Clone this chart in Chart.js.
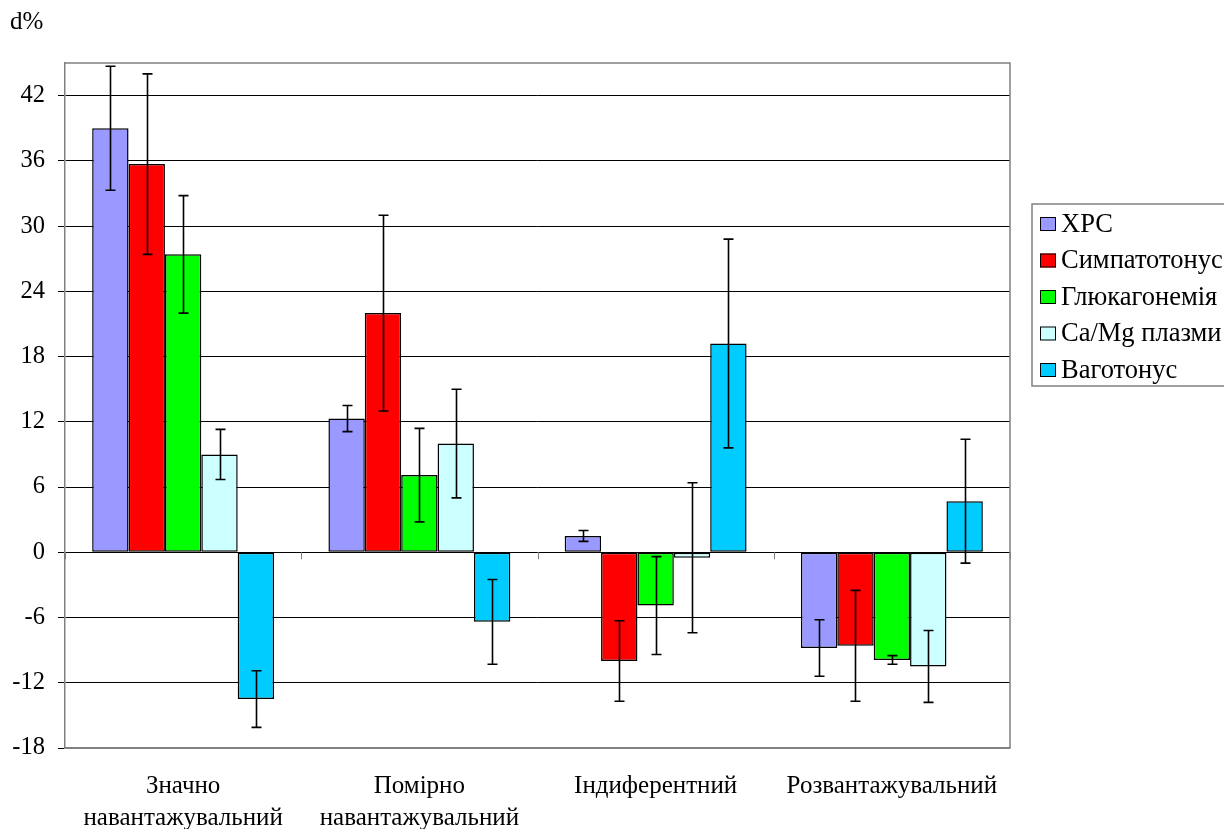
<!DOCTYPE html>
<html>
<head>
<meta charset="utf-8">
<script src="https://cdn.jsdelivr.net/npm/chart.js@4/dist/chart.umd.min.js"></script>
<style>
  html, body { margin: 0; padding: 0; background: #fff; }
  #wrap { width: 1224px; height: 829px; }
</style>
</head>
<body>
<div id="wrap"><canvas id="chart" width="1224" height="829"></canvas></div>
<script>
/* ---------- data ---------- */
const categories = [
  ['Значно', 'навантажувальний'],
  ['Помірно', 'навантажувальний'],
  'Індиферентний',
  'Розвантажувальний'
];
const seriesNames = ['ХРС', 'Симпатотонус', 'Глюкагонемія', 'Ca/Mg плазми', 'Ваготонус'];

const hrs      = [39.0, 12.3, 1.5, -8.8];
const hrsErr   = [5.7, 1.2, 0.5, 2.6];
const symp     = [35.7, 22.0, -10.0, -8.6];
const sympErr  = [8.3, 9.0, 3.7, 5.1];
const gluk     = [27.4, 7.1, -4.9, -9.9];
const glukErr  = [5.4, 4.3, 4.5, 0.4];
const camg     = [9.0, 10.0, -0.5, -10.5];
const camgErr  = [2.3, 5.0, 6.9, 3.3];
const vago     = [-13.5, -6.4, 19.2, 4.7];
const vagoErr  = [2.6, 3.9, 9.6, 5.7];

const yMin = -18, yMax = 45, yStep = 6;
const axisTitle = 'd%';

const values = [hrs, symp, gluk, camg, vago];
const errors = [hrsErr, sympErr, glukErr, camgErr, vagoErr];
const colors = ['#9999ff', '#ff0000', '#00ff00', '#ccffff', '#00ccff'];

const FONT = "'Liberation Serif', 'Times New Roman', serif";
const GRAY = '#808080';

/* ---------- plugins ---------- */
// gray frame round the plot + little ticks on the zero line
const framePlugin = {
  id: 'frame',
  beforeDatasetsDraw(chart) {
    const { ctx, chartArea: a, scales: { x, y } } = chart;
    ctx.save();
    ctx.strokeStyle = GRAY;
    ctx.lineWidth = 1.5;
    ctx.beginPath();
    ctx.moveTo(a.left, a.top);
    ctx.lineTo(a.right, a.top);
    ctx.lineTo(a.right, a.bottom);
    ctx.stroke();

    const y0 = y.getPixelForValue(0);
    ctx.lineWidth = 1;
    ctx.beginPath();
    for (let i = 0; i <= categories.length; i++) {
      const px = Math.round(x.getPixelForValue(i - 0.5)) + 0.5;
      ctx.moveTo(px, y0);
      ctx.lineTo(px, y0 + 7);
    }
    ctx.stroke();
    ctx.restore();
  }
};

// error bars drawn from the y scale
const errorBarPlugin = {
  id: 'errorBars',
  afterDatasetsDraw(chart) {
    const { ctx, scales: { y } } = chart;
    ctx.save();
    ctx.strokeStyle = '#000';
    ctx.lineWidth = 1.6;
    chart.data.datasets.forEach((ds, i) => {
      const meta = chart.getDatasetMeta(i);
      meta.data.forEach((bar, j) => {
        const v = ds.data[j], e = errors[i][j];
        const top = y.getPixelForValue(v + e);
        const bot = y.getPixelForValue(v - e);
        const cx = Math.round(bar.x) + 0.5;
        ctx.beginPath();
        ctx.moveTo(cx, top); ctx.lineTo(cx, bot);
        ctx.moveTo(cx - 5, top); ctx.lineTo(cx + 5, top);
        ctx.moveTo(cx - 5, bot); ctx.lineTo(cx + 5, bot);
        ctx.stroke();
      });
    });
    ctx.restore();
  }
};

// boxed legend at the right and the "d%" label
const legendPlugin = {
  id: 'boxLegend',
  afterDraw(chart) {
    const { ctx } = chart;
    const left = 1032, top = 204, rowH = 36.5;
    ctx.save();
    ctx.strokeStyle = GRAY;
    ctx.lineWidth = 1.5;
    ctx.strokeRect(left, top, 200, 182);

    ctx.font = '26.5px ' + FONT;
    ctx.textBaseline = 'middle';
    ctx.fillStyle = '#000';
    chart.data.datasets.forEach((ds, i) => {
      const cy = top + 20 + i * rowH;
      ctx.fillStyle = ds.backgroundColor;
      ctx.fillRect(1040, cy - 7, 16, 14);
      ctx.strokeStyle = '#000';
      ctx.lineWidth = 1;
      ctx.strokeRect(1040.5, cy - 6.5, 15, 13);
      ctx.fillStyle = '#000';
      ctx.fillText(ds.label, 1061, cy + 1);
    });

    ctx.font = '25px ' + FONT;
    ctx.textBaseline = 'alphabetic';
    ctx.fillText(axisTitle, 10, 29);
    ctx.restore();
  }
};

/* ---------- chart ---------- */
const ctx = document.getElementById('chart').getContext('2d');

const chart = new Chart(ctx, {
  type: 'bar',
  data: {
    labels: categories,
    datasets: seriesNames.map((name, i) => ({
      label: name,
      data: values[i],
      backgroundColor: colors[i],
      borderColor: '#000',
      borderWidth: 1.5,
      borderSkipped: false,
      categoryPercentage: 0.77,
      barPercentage: 1.0
    }))
  },
  options: {
    responsive: false,
    animation: false,
    layout: { padding: { top: 63, right: 214, left: 0, bottom: 0 } },
    plugins: {
      legend: { display: false },
      tooltip: { enabled: false }
    },
    scales: {
      x: {
        grid: { display: false, drawTicks: false },
        border: { display: true, color: GRAY, width: 1.5 },
        ticks: {
          color: '#000',
          font: { family: FONT, size: 25, lineHeight: 1.28 },
          padding: 22,
          maxRotation: 0,
          autoSkip: false
        },
        afterFit: s => { s.height = 81; }
      },
      y: {
        min: yMin,
        max: yMax,
        afterBuildTicks: s => { s.ticks = s.ticks.filter(t => t.value <= 42); },
        ticks: {
          stepSize: yStep,
          color: '#000',
          font: { family: FONT, size: 24.5 },
          padding: 13
        },
        grid: {
          color: c => (c.tick && c.tick.value === yMin) ? GRAY : '#000',
          tickColor: '#000',
          tickLength: 7,
          lineWidth: 1
        },
        border: { display: true, color: GRAY, width: 1.5 },
        afterFit: s => { s.width = 65; }
      }
    }
  },
  plugins: [framePlugin, errorBarPlugin, legendPlugin]
});
</script>
</body>
</html>
